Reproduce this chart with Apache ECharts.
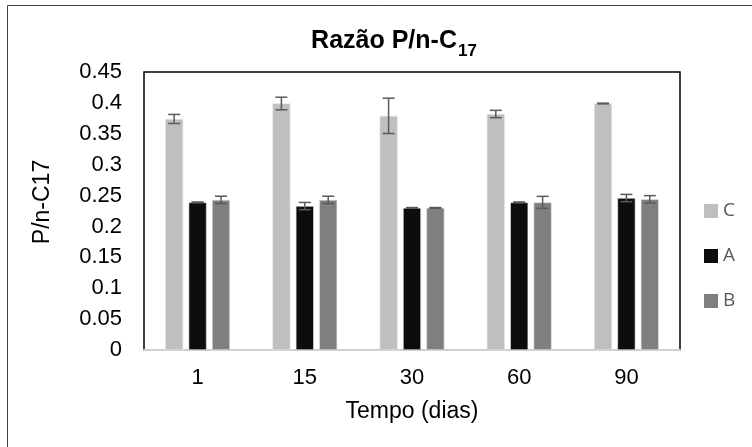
<!DOCTYPE html>
<html>
<head>
<meta charset="utf-8">
<script src="https://cdn.jsdelivr.net/npm/echarts@6/dist/echarts.min.js"></script>
<style>html,body{margin:0;padding:0;background:#fff;}#c{width:752px;height:447px;}</style>
</head>
<body>
<div id="c"></div>
<script>
const categories = ['1', '15', '30', '60', '90'];
const valuesC = [0.374, 0.399, 0.379, 0.382, 0.399];
const valuesA = [0.239, 0.233, 0.230, 0.239, 0.246];
const valuesB = [0.243, 0.243, 0.230, 0.239, 0.244];
const errC = [0.0073, 0.0102, 0.0286, 0.0059, 0.0006];
const errA = [0.0006, 0.0059, 0.0006, 0.0006, 0.0059];
const errB = [0.0059, 0.0059, 0.0006, 0.0097, 0.0059];
const yTicks = [0, 0.05, 0.1, 0.15, 0.2, 0.25, 0.3, 0.35, 0.4, 0.45];

const BAR_W = 18, BAR_GAP = 5.4;
const chart = echarts.init(document.getElementById('c'), null, {renderer: 'canvas'});

function errSeries(name, vals, errs, idx) {
  const data = vals.map((v, i) => [i, v, errs[i]]);
  return {
    name: name + '_err', type: 'custom', z: 10, silent: true,
    data: data,
    renderItem: function (params, api) {
      const i = api.value(0), v = api.value(1), e = api.value(2);
      const off = (idx - 1) * (BAR_W + BAR_GAP);
      const hi = api.coord([i, v + e]);
      const lo = api.coord([i, v - e]);
      const x = hi[0] + off;
      const cap = 6;
      const st = {stroke: '#5a5a5a', lineWidth: 1.5};
      return {type: 'group', children: [
        {type: 'line', shape: {x1: x, y1: hi[1], x2: x, y2: lo[1]}, style: st},
        {type: 'line', shape: {x1: x - cap, y1: hi[1], x2: x + cap, y2: hi[1]}, style: st},
        {type: 'line', shape: {x1: x - cap, y1: lo[1], x2: x + cap, y2: lo[1]}, style: st}
      ]};
    }
  };
}

const barStyle = (c) => ({color: c, borderColor: '#e6e6e6', borderWidth: 0.6});

chart.setOption({
  animation: false,
  backgroundColor: '#fff',
  title: {
    text: '{a|Razão P/n-C}{b|17}',
    left: 389, top: 24, textAlign: 'center',
    textStyle: {
      rich: {
        a: {fontFamily: 'Liberation Sans', fontWeight: 'bold', fontSize: 25, color: '#000', lineHeight: 28, verticalAlign: 'top'},
        b: {fontFamily: 'Liberation Sans', fontWeight: 'bold', fontSize: 17, color: '#000', lineHeight: 17, padding: [14, 0, 0, 1], verticalAlign: 'top'}
      }
    }
  },
  graphic: [
    {type: 'line', shape: {x1: 7.5, y1: 5.5, x2: 752, y2: 5.5}, style: {stroke: '#404040', lineWidth: 1}},
    {type: 'line', shape: {x1: 7.5, y1: 5.5, x2: 7.5, y2: 447}, style: {stroke: '#404040', lineWidth: 1}}
  ],
  legend: {
    orient: 'vertical', left: 704, top: 201, itemGap: 25, padding: 0,
    itemWidth: 14, itemHeight: 14, icon: 'rect',
    itemStyle: {borderWidth: 0},
    data: ['C', 'A', 'B'],
    textStyle: {fontFamily: 'Open Sans', fontSize: 19, lineHeight: 20, color: '#595959'}
  },
  grid: {left: 144, right: 72, top: 72, bottom: 97, show: true, borderColor: '#000', borderWidth: 1.5},
  xAxis: {
    type: 'category', data: categories,
    name: 'Tempo (dias)', nameLocation: 'middle', nameGap: 50,
    nameTextStyle: {fontFamily: 'Liberation Sans', fontSize: 23, color: '#000'},
    axisLine: {show: true, lineStyle: {color: '#d0d0d0', width: 2}},
    axisTick: {show: false},
    axisLabel: {fontFamily: 'Liberation Sans', fontSize: 22, color: '#000', margin: 17}
  },
  yAxis: {
    type: 'value', min: 0, max: 0.45, interval: 0.05,
    name: 'P/n-C17', nameLocation: 'middle', nameGap: 90, nameRotate: 90,
    nameTextStyle: {fontFamily: 'Liberation Sans', fontSize: 23, color: '#000', padding: [0, 0, 0, 18]},
    axisLine: {show: false}, axisTick: {show: false}, splitLine: {show: false},
    axisLabel: {fontFamily: 'Liberation Sans', fontSize: 22, color: '#000', margin: 22,
      formatter: (v) => { const t = yTicks.find(x => Math.abs(x - v) < 1e-9); return String(t !== undefined ? +t.toFixed(2) : v); }}
  },
  series: [
    {name: 'C', type: 'bar', data: valuesC, barWidth: BAR_W, barGap: '30%', itemStyle: barStyle('#bfbfbf')},
    {name: 'A', type: 'bar', data: valuesA, barWidth: BAR_W, barGap: '30%', itemStyle: barStyle('#0d0d0d')},
    {name: 'B', type: 'bar', data: valuesB, barWidth: BAR_W, barGap: '30%', itemStyle: barStyle('#7f7f7f')},
    errSeries('C', valuesC, errC, 0),
    errSeries('A', valuesA, errA, 1),
    errSeries('B', valuesB, errB, 2)
  ]
});
</script>
</body>
</html>
